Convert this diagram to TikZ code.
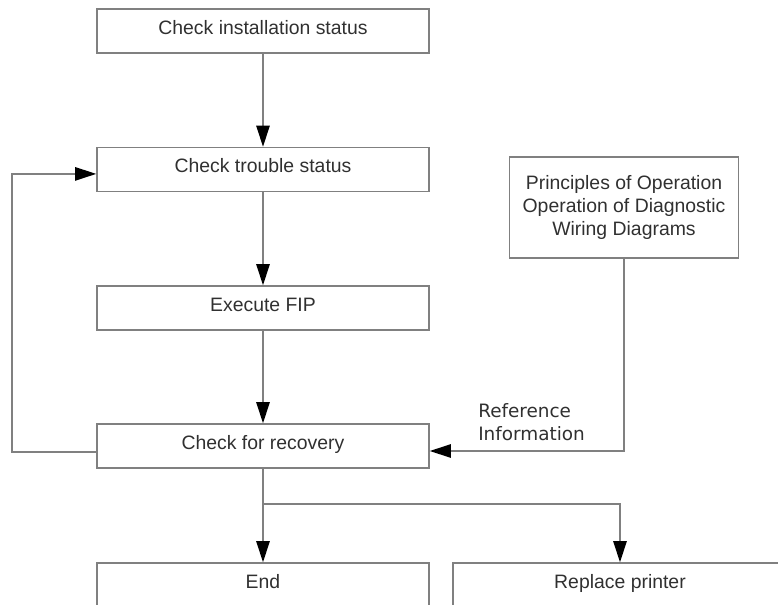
\documentclass[tikz,border=0pt]{standalone}
\usepackage{fontspec}
\setmainfont{Liberation Sans}
\newfontfamily\reffont{DejaVu Sans}
\usetikzlibrary{arrows.meta,positioning,calc}
\definecolor{edge}{HTML}{808080}
\definecolor{ink}{HTML}{303030}

\begin{document}
\begin{tikzpicture}[
  box/.style={draw=edge,line width=1.1pt,minimum width=8.3cm,minimum height=1.1cm,font=\fontsize{13.8}{16.3}\selectfont,text=ink,align=center,inner sep=0pt},
  flow/.style={draw=edge,line width=1.1pt,-{Triangle[length=15pt,width=9.5pt,color=black]}},
]
  \useasboundingbox (0,0) rectangle (19.45,-15.125);
  \clip (0,0) rectangle (19.45,-15.125);

  \node[box,text height=0.4cm,text depth=0.25cm] (inst) at (6.575,-0.775) {Check installation status};
  \node[box,text height=0.4cm,text depth=0.25cm] (trbl) at (6.575,-4.2375) {Check trouble status};
  \node[box,text height=0.4cm,text depth=0.25cm] (fip) at (6.575,-7.7) {Execute FIP};
  \node[box,text height=0.4cm,text depth=0.25cm] (rcv) at (6.575,-11.15) {Check for recovery};
  \node[box,minimum width=5.725cm,minimum height=2.525cm] (prin) at (15.6,-5.19) {Principles of Operation\\Operation of Diagnostic\\Wiring Diagrams};
  \node[box,text height=0.4cm,text depth=0.25cm] (fin) at (6.575,-14.625) {End};
  \node[box,text height=0.4cm,text depth=0.25cm,minimum width=8.35cm] (repl) at (15.5,-14.625) {Replace printer};

  \node[font=\reffont\fontsize{13.1}{16.3}\selectfont,text=ink,align=left,anchor=west,inner sep=0pt] (refinfo) at (11.95,-10.545) {Reference\\Information};

  \draw[flow] (inst) -- (trbl);
  \draw[flow] (trbl) -- (fip);
  \draw[flow] (fip) -- (rcv);
  \draw[flow] (rcv) -- (fin);
  \draw[flow] ([yshift=-0.15cm]rcv.west) -- ++(-2.1,0) |- ([yshift=-0.11cm]trbl.west);
  \draw[flow] (prin.south) |- ([yshift=-0.125cm]rcv.east);
  \coordinate (split) at ([yshift=-0.875cm]rcv.south);
  \draw[flow] (split) -| (repl.north);
\end{tikzpicture}
\end{document}
